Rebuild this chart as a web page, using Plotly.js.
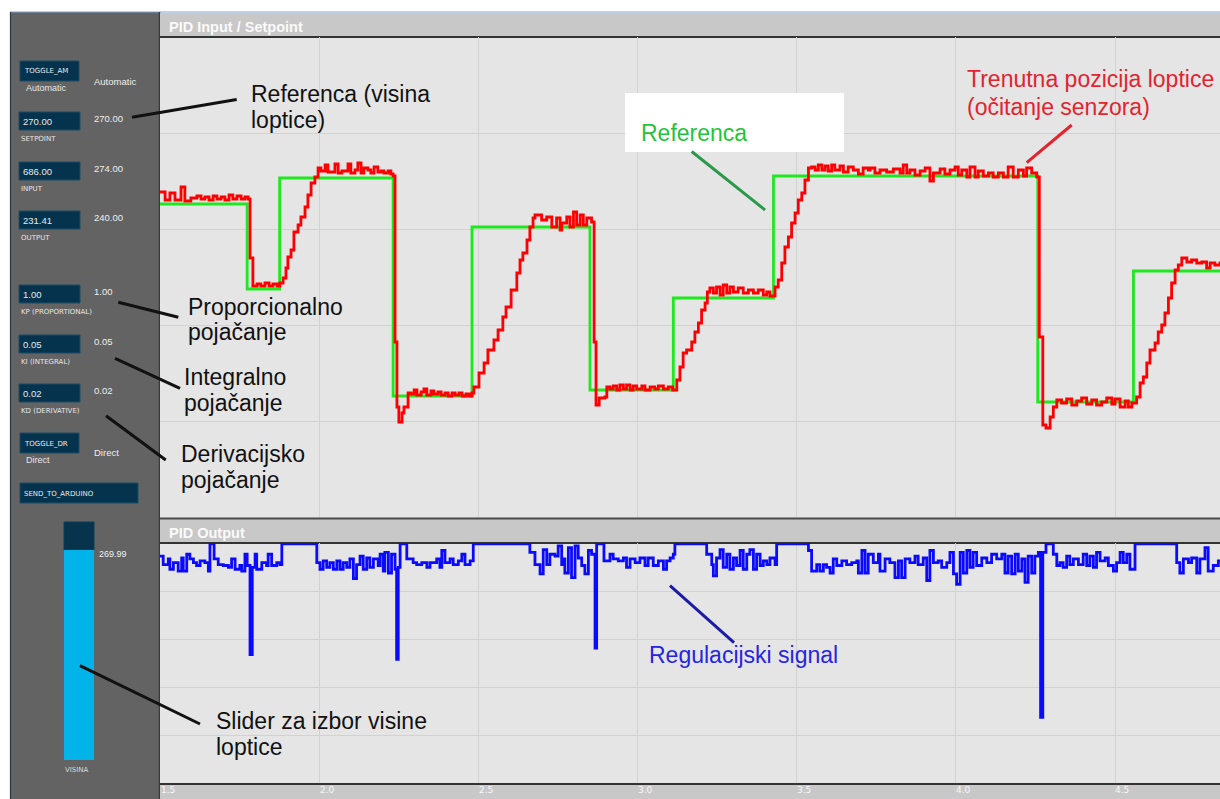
<!DOCTYPE html>
<html><head><meta charset="utf-8">
<script src="https://cdn.plot.ly/plotly-3.0.1.min.js"></script>
<style>html,body{margin:0;padding:0;background:#fff;}#chart{width:1220px;height:799px;}</style>
</head><body><div id="chart"></div>
<script>
// ---- DATA (time axis in s, input/setpoint in sensor units, output 0..255) ----
const setpointTime  = [1.490, 1.771, 1.873, 2.230, 2.478, 2.849, 3.111, 3.426, 4.257, 4.558, 4.840];
const setpointValue = [313,   228,   339,   121,   290,   127,   219,   341,   115,   246,   246];

const inputTime = [
 1.497,1.513,1.528,1.544,1.563,1.575,1.594,1.613,1.626,1.638,1.651,1.664,1.676,1.689,1.701,1.714,1.726,1.739,1.752,1.764,1.774,
 1.780,1.789,1.802,1.814,1.827,1.840,1.852,1.865,1.874,1.884,1.893,1.899,1.909,1.918,1.931,1.940,1.953,1.962,1.972,1.984,1.994,
 2.003,2.016,2.025,2.047,2.057,2.069,2.088,2.097,2.110,2.119,2.129,2.138,2.151,2.160,2.170,2.182,2.192,2.201,2.214,2.223,2.230,
 2.236,2.242,2.248,2.258,2.264,2.277,
 2.286,2.296,2.305,2.318,2.327,2.336,2.349,2.358,2.371,2.381,2.393,2.403,2.415,2.425,2.437,2.447,2.459,2.469,2.478,
 2.484,2.500,2.516,2.528,2.547,2.560,2.575,2.585,2.601,2.619,2.629,2.638,2.651,2.660,2.670,
 2.676,2.697,2.713,2.729,2.744,2.755,2.760,2.776,2.786,2.797,2.807,2.818,2.828,2.839,2.854,
 2.862,2.868,2.878,2.896,2.902,
 2.912,2.922,2.933,2.943,2.954,2.964,2.975,2.985,2.996,3.012,3.022,3.038,3.053,3.064,3.080,3.095,3.109,
 3.122,3.132,3.142,3.153,3.169,3.179,3.190,3.200,3.211,3.218,
 3.226,3.237,3.247,3.258,3.268,3.279,3.289,3.300,3.315,3.331,3.347,3.363,3.378,3.394,3.405,3.415,
 3.431,3.441,3.452,3.462,3.473,3.483,3.494,3.504,3.515,3.525,3.536,
 3.546,3.557,3.567,3.578,3.588,3.598,3.609,3.619,3.635,3.646,3.661,3.677,3.693,3.708,3.724,3.730,3.745,3.761,3.782,3.803,3.824,3.834,3.845,3.855,3.871,3.887,3.903,3.918,3.929,3.950,3.965,3.981,3.997,4.007,4.018,4.034,4.044,4.060,4.070,4.086,4.102,4.117,4.133,4.149,4.164,4.180,4.196,4.212,4.222,4.238,4.254,
 4.262,4.273,4.283,4.296,4.306,4.317,
 4.332,4.348,4.364,4.380,4.395,4.411,4.427,4.442,4.458,4.474,4.490,4.500,4.516,4.532,4.542,4.553,
 4.568,4.579,4.589,4.600,4.610,4.626,4.636,4.647,4.657,4.668,4.678,4.689,4.699,4.710,
 4.726,4.741,4.757,4.773,4.788,4.799,4.814,4.830,4.840
];
const inputValue = [
 325,317,324,317,330,316,319,321,318,320,317,321,318,320,317,322,318,321,318,320,318,
 259,231,233,231,234,231,233,231,234,239,249,260,267,285,292,300,310,322,334,340,349,
 346,352,345,353,344,346,353,344,347,354,344,349,347,344,350,345,346,344,346,343,341,
 175,110,95,104,110,124,
 123,127,122,125,128,122,126,123,125,122,124,121,124,122,124,121,123,121,124,
 130,144,154,167,177,187,200,210,227,244,257,264,277,290,299,
 302,297,300,290,299,287,294,300,290,305,292,302,292,299,295,
 175,112,119,120,130,
 128,131,127,132,128,132,127,131,128,131,127,130,128,131,128,130,127,
 137,150,164,167,175,185,194,207,214,225,
 229,224,230,222,232,224,230,225,229,224,227,224,227,222,225,221,
 230,237,254,270,280,294,304,317,324,337,349,
 350,347,352,347,351,346,352,347,351,345,350,347,343,349,347,349,344,347,345,348,344,352,344,347,342,346,349,336,344,348,343,347,350,342,347,340,350,340,346,341,344,340,344,340,350,340,347,341,349,344,340,
 180,92,89,100,110,117,
 114,118,112,116,119,113,117,112,115,119,113,118,110,116,110,114,
 120,134,140,154,167,174,185,192,204,219,234,247,252,259,
 255,257,254,255,249,254,252,254,254
];

const outputTime = [
 1.497,1.507,1.523,1.528,1.539,1.554,1.565,1.570,1.581,1.591,1.602,1.612,1.623,1.638,1.649,
 1.654,1.667,1.680,1.696,1.712,1.722,1.733,1.748,1.754,1.764,1.771,1.780,1.787,1.796,1.801,1.817,1.832,1.837,1.848,1.864,1.874,
 1.880,1.990,2.000,2.010,2.021,2.031,2.042,2.053,2.063,2.073,2.084,2.094,2.105,2.115,2.126,2.136,2.147,2.157,2.168,2.183,2.189,2.199,2.204,2.215,2.225,2.236,2.241,2.246,
 2.252,2.273,2.293,2.304,2.320,2.336,2.346,2.367,2.377,2.383,2.393,2.409,2.419,2.435,2.446,2.456,2.472,
 2.482,2.660,2.676,2.692,2.702,2.713,2.723,2.739,2.749,2.760,2.765,2.770,2.781,2.791,2.802,2.812,2.823,2.833,2.844,2.854,2.865,
 2.870,2.893,2.912,2.922,2.938,2.954,2.964,2.975,2.991,3.006,3.022,3.032,3.048,3.064,3.080,3.090,3.101,3.111,
 3.116,3.216,3.232,3.237,3.247,3.258,3.268,3.279,3.289,3.300,3.310,3.321,3.331,3.342,3.352,3.363,3.373,3.384,3.394,3.405,3.415,3.431,
 3.436,3.536,3.546,3.562,3.572,3.583,3.593,3.604,3.614,3.625,3.641,3.656,3.672,3.688,3.693,3.704,3.714,3.724,3.740,3.756,3.761,3.777,3.792,
 3.808,3.819,3.829,3.840,3.855,3.871,3.881,3.897,3.908,3.918,3.929,3.944,3.955,3.971,3.981,3.992,4.002,4.013,4.023,4.034,4.044,4.054,4.065,
 4.081,4.097,4.112,4.128,4.144,4.154,4.164,4.175,4.186,4.196,4.207,4.217,4.227,4.238,4.248,4.259,4.266,4.273,
 4.283,4.306,4.317,4.327,4.337,4.348,4.358,4.369,4.385,4.400,4.411,4.421,4.432,4.442,4.453,4.469,4.479,4.495,4.505,4.516,4.526,4.537,4.547,
 4.563,4.694,4.704,4.715,4.731,4.741,4.757,4.767,4.783,4.793,4.809,4.825,4.840
];
const outputValue = [
 242,233,239,228,235,226,240,226,244,239,235,232,237,235,226,
 255,239,233,232,230,239,228,232,226,244,232,137,230,244,228,235,232,244,232,235,233,
 255,235,228,237,230,235,228,237,228,235,230,239,218,233,242,228,240,230,239,232,244,226,246,224,244,228,132,230,
 255,239,235,233,235,230,235,239,230,248,235,239,233,237,244,233,237,
 255,246,233,223,249,233,244,242,253,233,239,224,251,219,253,240,232,223,248,244,144,
 255,237,244,239,237,240,230,239,235,240,232,240,232,237,228,237,240,244,
 255,244,233,221,240,249,230,244,228,240,232,248,228,244,249,228,244,232,237,233,240,233,
 255,248,226,233,226,233,230,224,239,232,237,233,235,237,224,248,224,244,235,244,226,239,235,
 219,237,219,239,235,242,233,240,216,248,235,237,230,235,246,223,212,246,224,248,230,246,232,
 240,235,244,239,244,224,242,223,244,226,239,214,242,224,242,246,70,246,
 255,244,232,235,230,242,233,239,233,244,232,242,230,246,237,240,232,226,235,246,235,244,228,
 255,235,224,239,235,240,224,239,251,226,232,237,237
];

const xTickValues = [1.5, 2.0, 2.5, 3.0, 3.5, 4.0, 4.5];

// panel controls: [label in box, caption under box, value on the right]
const panelFields = [
  {box:'TOGGLE_AM', cap:'Automatic', val:'Automatic'},
  {box:'270.00', cap:'SETPOINT', val:'270.00'},
  {box:'686.00', cap:'INPUT', val:'274.00'},
  {box:'231.41', cap:'OUTPUT', val:'240.00'},
  {box:'1.00', cap:'KP (PROPORTIONAL)', val:'1.00'},
  {box:'0.05', cap:'KI (INTEGRAL)', val:'0.05'},
  {box:'0.02', cap:'KD (DERIVATIVE)', val:'0.02'},
  {box:'TOGGLE_DR', cap:'Direct', val:'Direct'}
];
const sliderValue = '269.99';

// ---- LAYOUT HELPERS (pixel -> paper) ----
const L = 160, R = 1220, T = 37, B = 783;
const X = p => (p - L) / (R - L);
const Y = p => (B - p) / (B - T);
const shapes = [], ann = [];
const SANS = 'Liberation Sans, Arial, sans-serif';
const PIX = 'DejaVu Sans, sans-serif';
function rect(x0, y0, x1, y1, fill, layer, line) {
  shapes.push({type:'rect', xref:'paper', yref:'paper', x0:X(x0), x1:X(x1), y0:Y(y0), y1:Y(y1),
    fillcolor:fill, line: line || {width:0}, layer: layer || 'below'});
}
function seg(x0, y0, x1, y1, color, w, layer) {
  shapes.push({type:'line', xref:'paper', yref:'paper', x0:X(x0), y0:Y(y0), x1:X(x1), y1:Y(y1),
    line:{color:color, width:w}, layer: layer || 'above'});
}
function txt(x, y, text, size, color, family, bold) {
  ann.push({xref:'paper', yref:'paper', x:X(x), y:Y(y), xanchor:'left', yanchor:'middle',
    text: bold ? '<b>' + text + '</b>' : text, showarrow:false, borderpad:0,
    font:{family: family || SANS, size:size, color:color}});
}

// page frame
rect(10, 12, 160, 799, '#636363');
seg(10, 12, 1220, 12, '#7fa3d3', 1.2, 'below');
seg(10.5, 12, 10.5, 799, '#2e3844', 1.2, 'below');
seg(159.5, 12, 159.5, 799, '#3a3a3a', 1.5, 'below');
// plot backgrounds
rect(160, 37, 1220, 518, '#e5e5e5');
rect(160, 543, 1220, 783, '#e5e5e5');
// title bars
rect(160, 13, 1220, 37, '#c8c8c8');
rect(160, 519, 1220, 543, '#c8c8c8');
rect(160, 784, 1220, 799, '#c8c8c8');
seg(160, 37, 1220, 37, '#333333', 2, 'below');
seg(160, 518.5, 1220, 518.5, '#4a4a4a', 2, 'below');
seg(160, 543, 1220, 543, '#333333', 2, 'below');
seg(160, 784, 1220, 784, '#333333', 2, 'below');
txt(168, 27, 'PID Input / Setpoint', 14.5, '#fafafa', null, true);
txt(168, 533, 'PID Output', 14.5, '#fafafa', null, true);

// left control panel
const boxFill = '#05334d', boxLine = {color:'#1b4d68', width:1};
const fieldRows = [71, 121, 171, 220, 294, 344, 393, 443];
panelFields.forEach((f, i) => {
  const cy = fieldRows[i];
  const toggle = (i === 0 || i === 7);
  const h = toggle ? 10 : 9;
  rect(toggle ? 20 : 19, cy - h, toggle ? 79 : 80, cy + h, boxFill, 'below', boxLine);
  txt(toggle ? 23 : 21.5, cy + 0.5, f.box, toggle ? 7 : 9.5, '#e9e9e9', toggle ? PIX : SANS);
  txt(toggle ? 25 : 19.5, cy + (toggle ? 17 : 18), f.cap, toggle ? 9 : 7, '#e6e6e6', toggle ? SANS : PIX);
  txt(92.5, cy + (toggle ? 10 : -2.5), f.val, 9.5, '#eeeeee');
});
rect(20, 483, 138, 503, boxFill, 'below', boxLine);
txt(23, 493.5, 'SEND_TO_ARDUINO', 7, '#e9e9e9', PIX);
// slider
rect(64, 522, 94, 550, '#07344c', 'below', {color:'#0d3f59', width:1});
rect(64, 550, 94, 760, '#00b3e8');
txt(97.5, 554, sliderValue, 9, '#f0f0f0');
txt(63.5, 769.5, 'VISINA', 7, '#dcdcdc', PIX);

// annotation leader lines
seg(132, 117.3, 236.7, 99.5, '#111111', 3);
seg(118.3, 302.3, 178.3, 317.3, '#111111', 3);
seg(115, 358.3, 180, 388.3, '#111111', 3);
seg(106, 415.7, 165.7, 460, '#111111', 3);
seg(80, 665.7, 200, 724, '#111111', 3);
seg(670, 585.7, 734, 642.7, '#1b1ba5', 3);
rect(625, 93, 844, 152, '#ffffff', 'above');
seg(691.7, 151.5, 765, 210, '#2a9a4a', 3);
seg(1071.7, 125, 1026.7, 162.7, '#e3232d', 3);

// annotation texts
const fs = 23, blk = '#111111';
txt(250, 93.5, 'Referenca (visina', fs, blk);
txt(250, 120, 'loptice)', fs, blk);
txt(187, 306.5, 'Proporcionalno', fs, blk);
txt(187, 332, 'pojačanje', fs, blk);
txt(183, 377, 'Integralno', fs, blk);
txt(183, 402.5, 'pojačanje', fs, blk);
txt(180, 453.5, 'Derivacijsko', fs, blk);
txt(180, 479.5, 'pojačanje', fs, blk);
txt(215, 721, 'Slider za izbor visine', fs, blk);
txt(215, 747, 'loptice', fs, blk);
txt(648, 655, 'Regulacijski signal', fs, '#2626e0');
txt(640, 133, 'Referenca', fs, '#1fc43a');
txt(966, 79.5, 'Trenutna pozicija loptice', fs, '#e3232d');
txt(966, 106.5, '(očitanje senzora)', fs, '#e3232d');

const traces = [
  {x: setpointTime, y: setpointValue, xaxis:'x', yaxis:'y', mode:'lines', line:{color:'#1ee81e', width:2.8, shape:'hv'}, name:'Setpoint'},
  {x: inputTime, y: inputValue, xaxis:'x', yaxis:'y', mode:'lines', line:{color:'#ff0000', width:2.8, shape:'hv'}, name:'Input'},
  {x: outputTime, y: outputValue, xaxis:'x', yaxis:'y2', mode:'lines', line:{color:'#0a0aff', width:2.8, shape:'hv'}, name:'Output'}
];

const layout = {
  width: 1220, height: 799,
  margin: {l: L, r: 1220 - R, t: T, b: 799 - B, pad: 0},
  paper_bgcolor: '#ffffff', plot_bgcolor: 'rgba(0,0,0,0)',
  showlegend: false,
  xaxis: {range: [1.4969, 4.8302], anchor: 'y2', tickvals: xTickValues, ticktext: xTickValues.map(v => v.toFixed(1)),
    ticklabelposition: 'outside right', ticks: '', showline: false, zeroline: false,
    showgrid: true, gridcolor: '#d2d2d2', gridwidth: 1,
    tickfont: {family: 'DejaVu Sans, sans-serif', size: 9, color: '#f7f7f7'}},
  yaxis: {domain: [Y(517), 1], range: [0, 480], tick0: 0, dtick: 96, showticklabels: false, ticks: '',
    zeroline: false, showline: false, gridcolor: '#d2d2d2', gridwidth: 1},
  yaxis2: {domain: [0, Y(543)], range: [0, 256], tick0: 0, dtick: 51, showticklabels: false, ticks: '',
    zeroline: false, showline: false, gridcolor: '#d2d2d2', gridwidth: 1, anchor: 'x'},
  shapes: shapes,
  annotations: ann
};

Plotly.newPlot('chart', traces, layout, {staticPlot: true, displayModeBar: false});
</script>
</body></html>
